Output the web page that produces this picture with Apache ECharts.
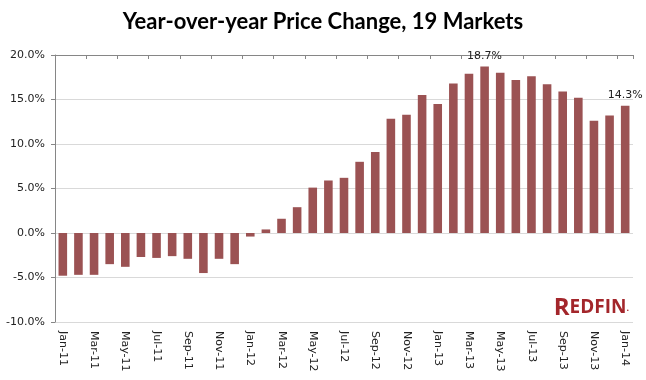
<!DOCTYPE html>
<html>
<head>
<meta charset="utf-8">
<script src="https://cdn.jsdelivr.net/npm/echarts@6/dist/echarts.min.js"></script>
<style>html,body{margin:0;padding:0;background:#fff}#c{width:646px;height:380px}</style>
</head>
<body>
<div id="c"></div>
<script>
const categories = ['Jan-11','Feb-11','Mar-11','Apr-11','May-11','Jun-11','Jul-11','Aug-11','Sep-11','Oct-11','Nov-11','Dec-11',
  'Jan-12','Feb-12','Mar-12','Apr-12','May-12','Jun-12','Jul-12','Aug-12','Sep-12','Oct-12','Nov-12','Dec-12',
  'Jan-13','Feb-13','Mar-13','Apr-13','May-13','Jun-13','Jul-13','Aug-13','Sep-13','Oct-13','Nov-13','Dec-13','Jan-14'];
const priceChange = [-4.8,-4.7,-4.7,-3.5,-3.8,-2.7,-2.8,-2.6,-2.9,-4.5,-2.9,-3.5,
  -0.4,0.4,1.6,2.9,5.1,5.9,6.2,8.0,9.1,12.85,13.3,15.5,
  14.5,16.8,17.9,18.7,18.0,17.2,17.6,16.7,15.9,15.2,12.6,13.2,14.3];
const labeledMonths = ['Apr-13','Jan-14'];
const yTicks = {min:-10, max:20, interval:5};

const chart = echarts.init(document.getElementById('c'), null, {renderer:'canvas'});
const barColor = '#9B5253';
chart.setOption({
  animation:false,
  title:{text:'Year-over-year Price Change, 19 Markets', left:'center', top:6,
    textStyle:{fontFamily:'Lato', fontWeight:'bold', fontSize:22, color:'#000'}},
  grid:{left:55, right:13, top:55, bottom:58},
  xAxis:[
    {type:'category', data:categories, position:'bottom',
     axisLine:{show:false}, axisTick:{show:false},
     axisLabel:{interval:1, rotate:-90, margin:9, fontFamily:'DejaVu Sans', fontSize:11, color:'#222'}},
    {type:'category', data:categories, position:'top',
     axisLine:{show:true, onZero:true, lineStyle:{color:'#868686', width:1}},
     axisTick:{show:true, interval:1, inside:true, length:4, lineStyle:{color:'#868686'}},
     axisLabel:{show:false}}
  ],
  yAxis:{type:'value', min:yTicks.min, max:yTicks.max, interval:yTicks.interval,
    axisLine:{show:true, lineStyle:{color:'#868686'}},
    axisTick:{show:true, length:4, lineStyle:{color:'#868686'}},
    splitLine:{lineStyle:{color:'#d9d9d9'}},
    axisLabel:{formatter:v=>v.toFixed(1)+'%', fontFamily:'DejaVu Sans', fontSize:11, color:'#222', margin:10}},
  series:[{type:'bar', xAxisIndex:0, barCategoryGap:'45%',
    itemStyle:{color:barColor},
    data:priceChange.map((v,i)=>({value:v,
      label:{show:labeledMonths.includes(categories[i]), position:'top', distance:5,
        formatter:p=>p.value.toFixed(1)+'%', fontFamily:'DejaVu Sans', fontSize:11, color:'#222'}}))
  }],
  graphic:[{type:'text', right:17, top:296,
    style:{text:'{a|R}{b|EDFIN}{c|.}', rich:{
      a:{fontFamily:'Open Sans', fontWeight:'bold', fontSize:24, fill:'#A3262B'},
      b:{fontFamily:'Open Sans', fontWeight:'bold', fontSize:19, fill:'#A3262B'},
      c:{fontFamily:'Open Sans', fontWeight:'bold', fontSize:9, fill:'#A3262B'}}}}]
});
</script>
</body>
</html>
